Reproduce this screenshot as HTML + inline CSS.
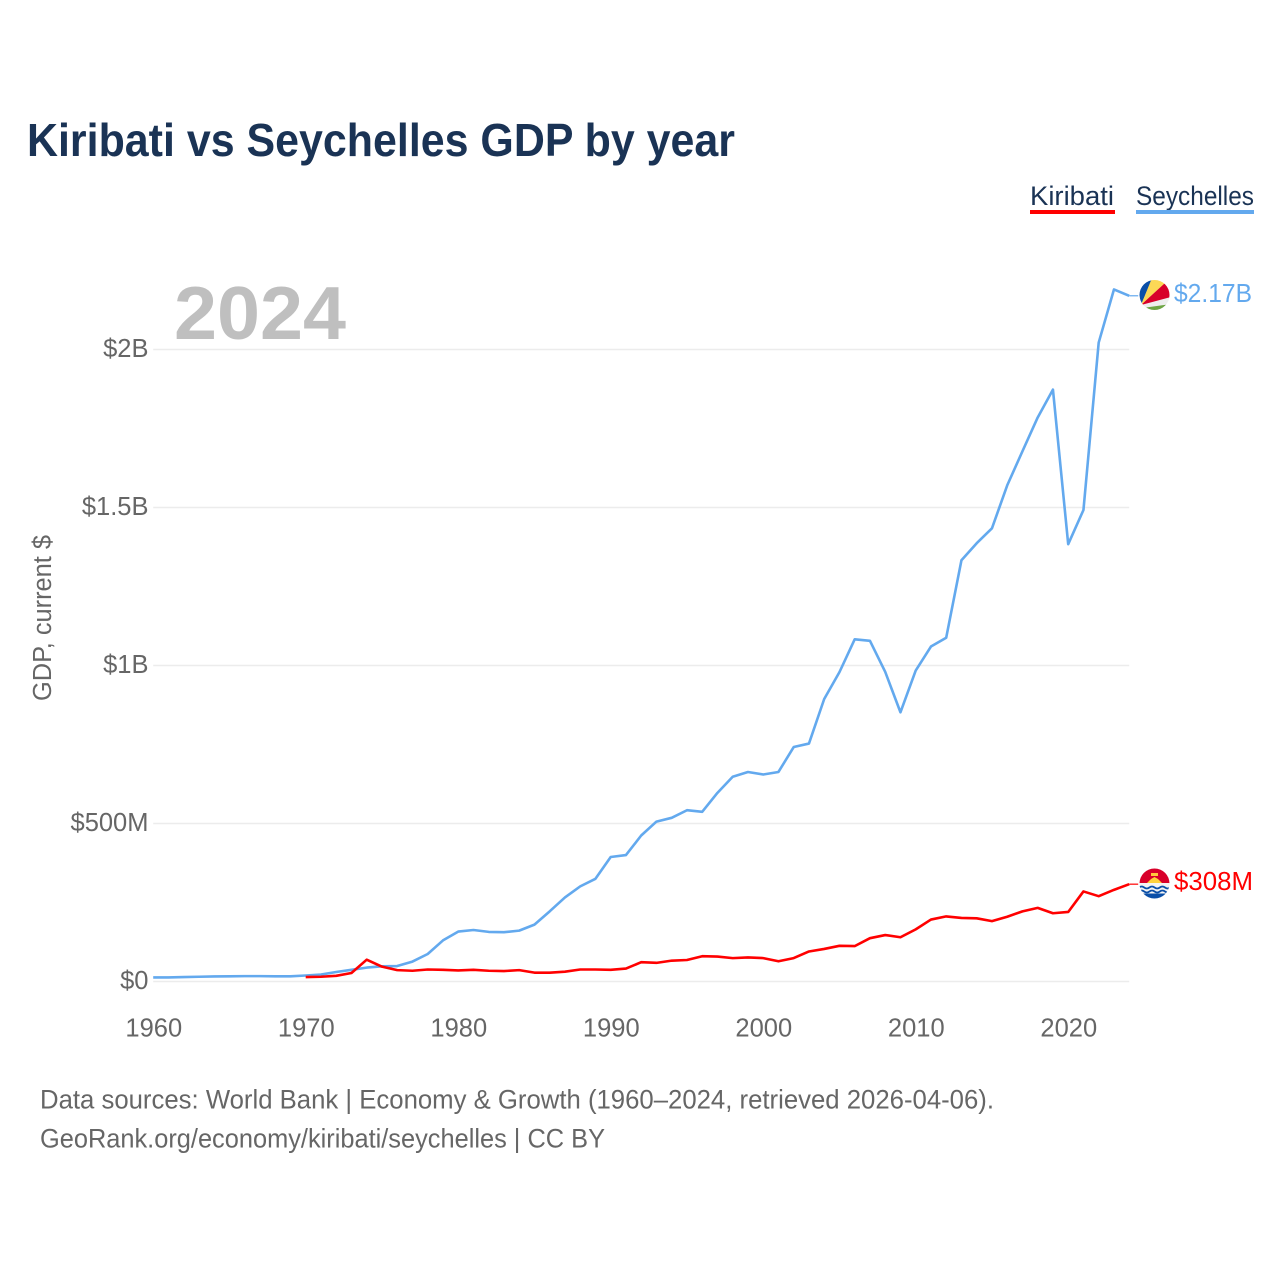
<!DOCTYPE html>
<html lang="en">
<head>
<meta charset="utf-8">
<title>Kiribati vs Seychelles GDP by year</title>
<style>
html,body{margin:0;padding:0;background:#fff;width:1280px;height:1280px;overflow:hidden}
svg{display:block}
text{font-family:"Liberation Sans",sans-serif}
.tick{font-size:25.5px;fill:#666}
.foot{font-size:26.5px;fill:#666}
.leg{font-size:26.5px;fill:#1a3355}
</style>
</head>
<body>
<svg id="chart" xmlns="http://www.w3.org/2000/svg" width="1280" height="1280" viewBox="0 0 1280 1280">
  <defs>
    <clipPath id="flag-clip-s"><circle cx="1154.5" cy="295" r="15"/></clipPath>
    <clipPath id="flag-clip-k"><circle cx="1154.5" cy="883.5" r="15"/></clipPath>
  </defs>
  <text x="27" y="156" font-size="46" font-weight="700" fill="#1a3355" textLength="708" lengthAdjust="spacingAndGlyphs">Kiribati vs Seychelles GDP by year</text>

  <g>
    <g>
      <text class="leg" x="1030" y="205" textLength="84" lengthAdjust="spacingAndGlyphs">Kiribati</text>
      <rect x="1030" y="210" width="85" height="4" fill="#ff0000"/>
    </g>
    <g>
      <text class="leg" x="1136" y="205" textLength="118" lengthAdjust="spacingAndGlyphs">Seychelles</text>
      <rect x="1136" y="210" width="118" height="4" fill="#63a9ee"/>
    </g>
  </g>

  <text x="174" y="339" font-size="75" font-weight="700" fill="#bfbfbf" textLength="172" lengthAdjust="spacingAndGlyphs">2024</text>
  <text class="tick" transform="translate(51,701) rotate(-90)" textLength="166" lengthAdjust="spacingAndGlyphs">GDP, current $</text>

  <g id="grid"></g>
  <g id="ylabels"></g>
  <g id="xlabels"></g>
  <g id="lines"></g>

  <g id="flag-s">
    <g clip-path="url(#flag-clip-s)">
      <rect x="1139" y="279" width="31" height="32" fill="#eeeeee"/>
      <polygon points="1141,305 1136,275 1152,279" fill="#0a4fa8"/>
      <polygon points="1141,305 1152,278 1166,280 1165,283" fill="#fcd856"/>
      <polygon points="1141,305 1165,283 1171,284 1171,297" fill="#d8002a"/>
      <polygon points="1146,307.5 1171,304 1171,312 1140,312" fill="#6da544"/>
    </g>
  </g>
  <g id="flag-k">
    <g clip-path="url(#flag-clip-k)">
      <rect x="1139" y="868" width="31" height="16" fill="#d8002a"/>
      <rect x="1139" y="883" width="31" height="16" fill="#f4f4f4"/>
      <polygon points="1147,883 1151,879 1154.5,877 1158,879 1162,883" fill="#ffd23c"/>
      <rect x="1151" y="873" width="7" height="3" fill="#ffc93c"/>
      <path d="M1139,887.5 q2.6,-2 5.2,0 t5.2,0 t5.2,0 t5.2,0 t5.2,0 t5.2,0" fill="none" stroke="#0a4fa8" stroke-width="1.8"/>
      <path d="M1139,891.5 q2.6,-2 5.2,0 t5.2,0 t5.2,0 t5.2,0 t5.2,0 t5.2,0" fill="none" stroke="#0a4fa8" stroke-width="1.8"/>
      <rect x="1139" y="893.5" width="31" height="6" fill="#0a4fa8"/>
    </g>
  </g>

  <g id="endlabels"></g>

  <text class="foot" x="40" y="1108.5" textLength="954" lengthAdjust="spacingAndGlyphs">Data sources: World Bank | Economy &amp; Growth (1960–2024, retrieved 2026-04-06).</text>
  <text class="foot" x="40" y="1147.5" textLength="565" lengthAdjust="spacingAndGlyphs">GeoRank.org/economy/kiribati/seychelles | CC BY</text>
</svg>
<script>
var seychellesYears = [1960,1961,1962,1963,1964,1965,1966,1967,1968,1969,1970,1971,1972,1973,1974,1975,1976,1977,1978,1979,1980,1981,1982,1983,1984,1985,1986,1987,1988,1989,1990,1991,1992,1993,1994,1995,1996,1997,1998,1999,2000,2001,2002,2003,2004,2005,2006,2007,2008,2009,2010,2011,2012,2013,2014,2015,2016,2017,2018,2019,2020,2021,2022,2023,2024];
var seychellesGdp = [13,13,14,15,16,16.5,17,17,16.5,16.5,19,22,30,37,44,48,49,63,87,130,158,163,157,156,161,180,222,266,301,325,394,400,462,506,518,542,537,597,648,663,655,663,742,753,894,979,1083,1078,980,852,984,1060,1088,1333,1387,1434,1570,1678,1785,1873,1384,1492,2022,2190,2170];
var kiribatiYears = [1970,1971,1972,1973,1974,1975,1976,1977,1978,1979,1980,1981,1982,1983,1984,1985,1986,1987,1988,1989,1990,1991,1992,1993,1994,1995,1996,1997,1998,1999,2000,2001,2002,2003,2004,2005,2006,2007,2008,2009,2010,2011,2012,2013,2014,2015,2016,2017,2018,2019,2020,2021,2022,2023,2024];
var kiribatiGdp = [14,15,18,27,69,47,36,34,38,37,35,37,34,33,36,28,28,31,38,38,37,41,61,59,66,68,80,79,74,76,74,64,74,95,103,113,112,137,147,140,165,196,206,201,200,191,205,222,233,216,220,285,270,290,308];
var yTickValues = [0,500,1000,1500,2000];
var yTickLabels = ["$0","$500M","$1B","$1.5B","$2B"];
var xTickValues = [1960,1970,1980,1990,2000,2010,2020];
var xTickLabels = ["1960","1970","1980","1990","2000","2010","2020"];
var endLabelKiribati = "$308M";
var endLabelSeychelles = "$2.17B";

var NS = "http://www.w3.org/2000/svg";
function xScale(year){ return 153.2 + (year - 1960) * 15.25; }
function yScale(millions){ return 981.5 - millions * 0.316; }
function make(tag, parent, attrs){
  var el = document.createElementNS(NS, tag);
  for (var k in attrs) { el.setAttribute(k, attrs[k]); }
  parent.appendChild(el);
  return el;
}
var grid = document.getElementById("grid");
var ylabels = document.getElementById("ylabels");
var xlabels = document.getElementById("xlabels");
var lines = document.getElementById("lines");
var endlabels = document.getElementById("endlabels");

yTickValues.forEach(function(v, i){
  var gl = make("line", grid, {x1:xScale(1960), x2:xScale(2024), y1:yScale(v), y2:yScale(v), stroke:"#ececec", "stroke-width":1.5});
  
  
  var t = make("text", ylabels, {x:148.5, y:yScale(v) + 7.5, "text-anchor":"end", "class":"tick"});
  
  
  t.textContent = yTickLabels[i];
});
xTickValues.forEach(function(v, i){
  var t = make("text", xlabels, {x:xScale(v) + 0.6, y:1036.5, "text-anchor":"middle", "class":"tick"});
  
  
  t.textContent = xTickLabels[i];
});
function drawSeries(years, values, color, name, label, labelName, labelWidth){
  var pts = years.map(function(y, i){ return xScale(y).toFixed(2) + "," + yScale(values[i]).toFixed(2); }).join(" ");
  var line = make("polyline", lines, {points:pts, fill:"none", stroke:color, "stroke-width":2.6, "stroke-linejoin":"round"});
  
  
  var lastX = xScale(years[years.length - 1]);
  var lastY = yScale(values[values.length - 1]);
  var stub = make("line", lines, {x1:lastX, x2:lastX + 9, y1:lastY, y2:lastY, stroke:color, "stroke-width":1.2});
  
  
  var t = make("text", endlabels, {x:1174, y:lastY + 6, fill:color, "font-size":"25.5px", textLength:labelWidth, lengthAdjust:"spacingAndGlyphs"});
  
  
  t.textContent = label;
}
drawSeries(seychellesYears, seychellesGdp, "#63a9ee", "seychelles-line", endLabelSeychelles, "seychelles-end-label", 78);
drawSeries(kiribatiYears, kiribatiGdp, "#ff0000", "kiribati-line", endLabelKiribati, "kiribati-end-label", 79);
</script>
</body>
</html>
